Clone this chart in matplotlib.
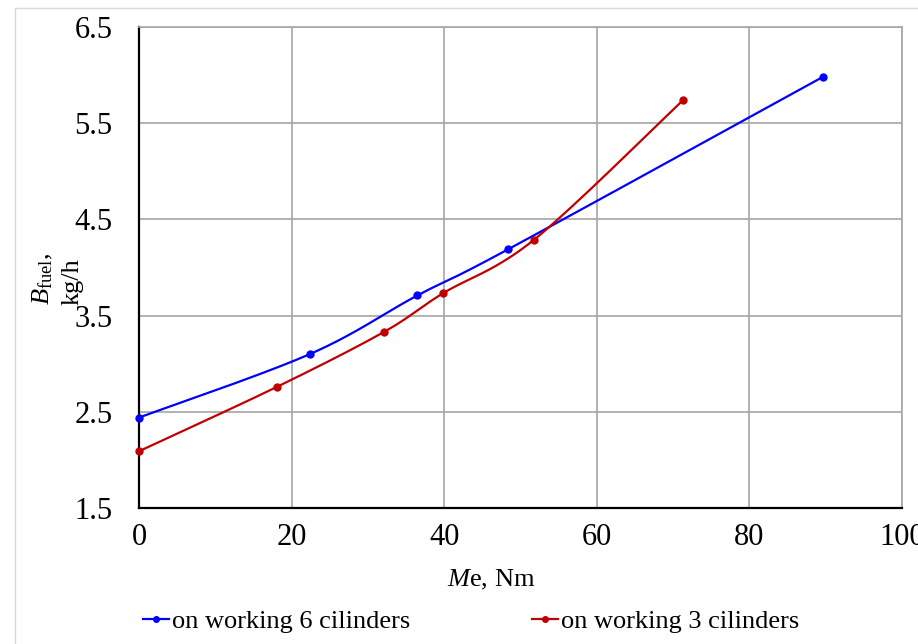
import numpy as np
import matplotlib
matplotlib.use('Agg')
import matplotlib.pyplot as plt
from matplotlib.patches import Rectangle

plt.rcParams['font.family'] = ['Liberation Serif', 'DejaVu Serif']
plt.rcParams['mathtext.fontset'] = 'custom'
plt.rcParams['mathtext.rm'] = 'Liberation Serif'
plt.rcParams['mathtext.it'] = 'Liberation Serif:italic'

# torque Me (Nm) vs fuel consumption (kg/h)
me_6cyl = [0, 22.4, 36.5, 48.4, 89.6]
fuel_6cyl = [2.44, 3.10, 3.71, 4.19, 5.98]
me_3cyl = [0, 18.1, 32.1, 39.8, 51.8, 71.3]
fuel_3cyl = [2.09, 2.76, 3.33, 3.73, 4.29, 5.74]

labels = ['on working 6 cilinders', 'on working 3 cilinders']
colors = ['#0000FF', '#C00000']

x_ticks = [0, 20, 40, 60, 80, 100]
y_ticks = [1.5, 2.5, 3.5, 4.5, 5.5, 6.5]

TICK_FS = 22
FS = 19


def smooth(xs, ys, n=40):
    # catmull-rom style smoothing, like a spreadsheet "smoothed line"
    p = np.column_stack([xs, ys]).astype(float)
    out = [p[0]]
    t = np.linspace(0, 1, n)[1:, None]
    for i in range(len(p) - 1):
        p0 = p[i - 1] if i > 0 else p[i]
        p1, p2 = p[i], p[i + 1]
        p3 = p[i + 2] if i + 2 < len(p) else p[i + 1]
        c1 = p1 + (p2 - p0) / 6
        c2 = p2 - (p3 - p1) / 6
        seg = ((1 - t) ** 3) * p1 + 3 * ((1 - t) ** 2) * t * c1 + 3 * (1 - t) * t ** 2 * c2 + t ** 3 * p2
        out.extend(seg)
    out = np.array(out)
    return out[:, 0], out[:, 1]


fig = plt.figure(figsize=(9.18, 6.44), dpi=100)
fig.patches.append(Rectangle((15 / 918, -0.01), 1.0, 1 - 8 / 644 + 0.01, transform=fig.transFigure,
                             fill=False, edgecolor='#d9d9d9', linewidth=1.0))
ax = fig.add_axes([139 / 918, 1 - 508 / 644, 763 / 918, 481 / 644])

handles = []
for xs, ys, c, lab in [(me_6cyl, fuel_6cyl, colors[0], labels[0]),
                       (me_3cyl, fuel_3cyl, colors[1], labels[1])]:
    sx, sy = smooth(xs, ys)
    ax.plot(sx, sy, color=c, lw=1.6, clip_on=False, zorder=3)
    ax.plot(xs, ys, 'o', color=c, ms=5, clip_on=False, zorder=4)
    h, = ax.plot([], [], '-o', color=c, lw=1.6, ms=4, label=lab)
    handles.append(h)

ax.set_xlim(0, 100)
ax.set_ylim(1.5, 6.5)
ax.set_xticks(x_ticks)
ax.set_yticks(y_ticks)
ax.set_xticklabels([str(v) for v in x_ticks])
ax.set_yticklabels(['%.1f' % v for v in y_ticks])
ax.tick_params(length=0, labelsize=TICK_FS)
ax.tick_params(axis='y', pad=19)
ax.tick_params(axis='x', pad=11)
ax.grid(True, color='#a6a6a6', lw=1.2)
ax.set_axisbelow(True)
for s in ['top', 'right']:
    ax.spines[s].set_color('#a6a6a6')
    ax.spines[s].set_linewidth(1.2)
for s in ['left', 'bottom']:
    ax.spines[s].set_color('black')
    ax.spines[s].set_linewidth(1.6)

fig.text(491 / 918, 1 - 580 / 644, r'$\mathit{M}$e, Nm', ha='center', va='center', fontsize=FS)
fig.text(43 / 918, 1 - 279 / 644, r'$\mathit{B}_{\mathrm{fuel}}$,', ha='center', va='center',
         rotation=90, fontsize=FS)
fig.text(73 / 918, 1 - 282 / 644, 'kg/h', ha='center', va='center', rotation=90, fontsize=FS)

fig.legend(handles=handles, loc='center', bbox_to_anchor=(471 / 918, 1 - 621 / 644), ncol=2,
           frameon=False, fontsize=FS, handlelength=1.0, handletextpad=0.1,
           columnspacing=4.6)

fig.savefig('out.png', dpi=100)
